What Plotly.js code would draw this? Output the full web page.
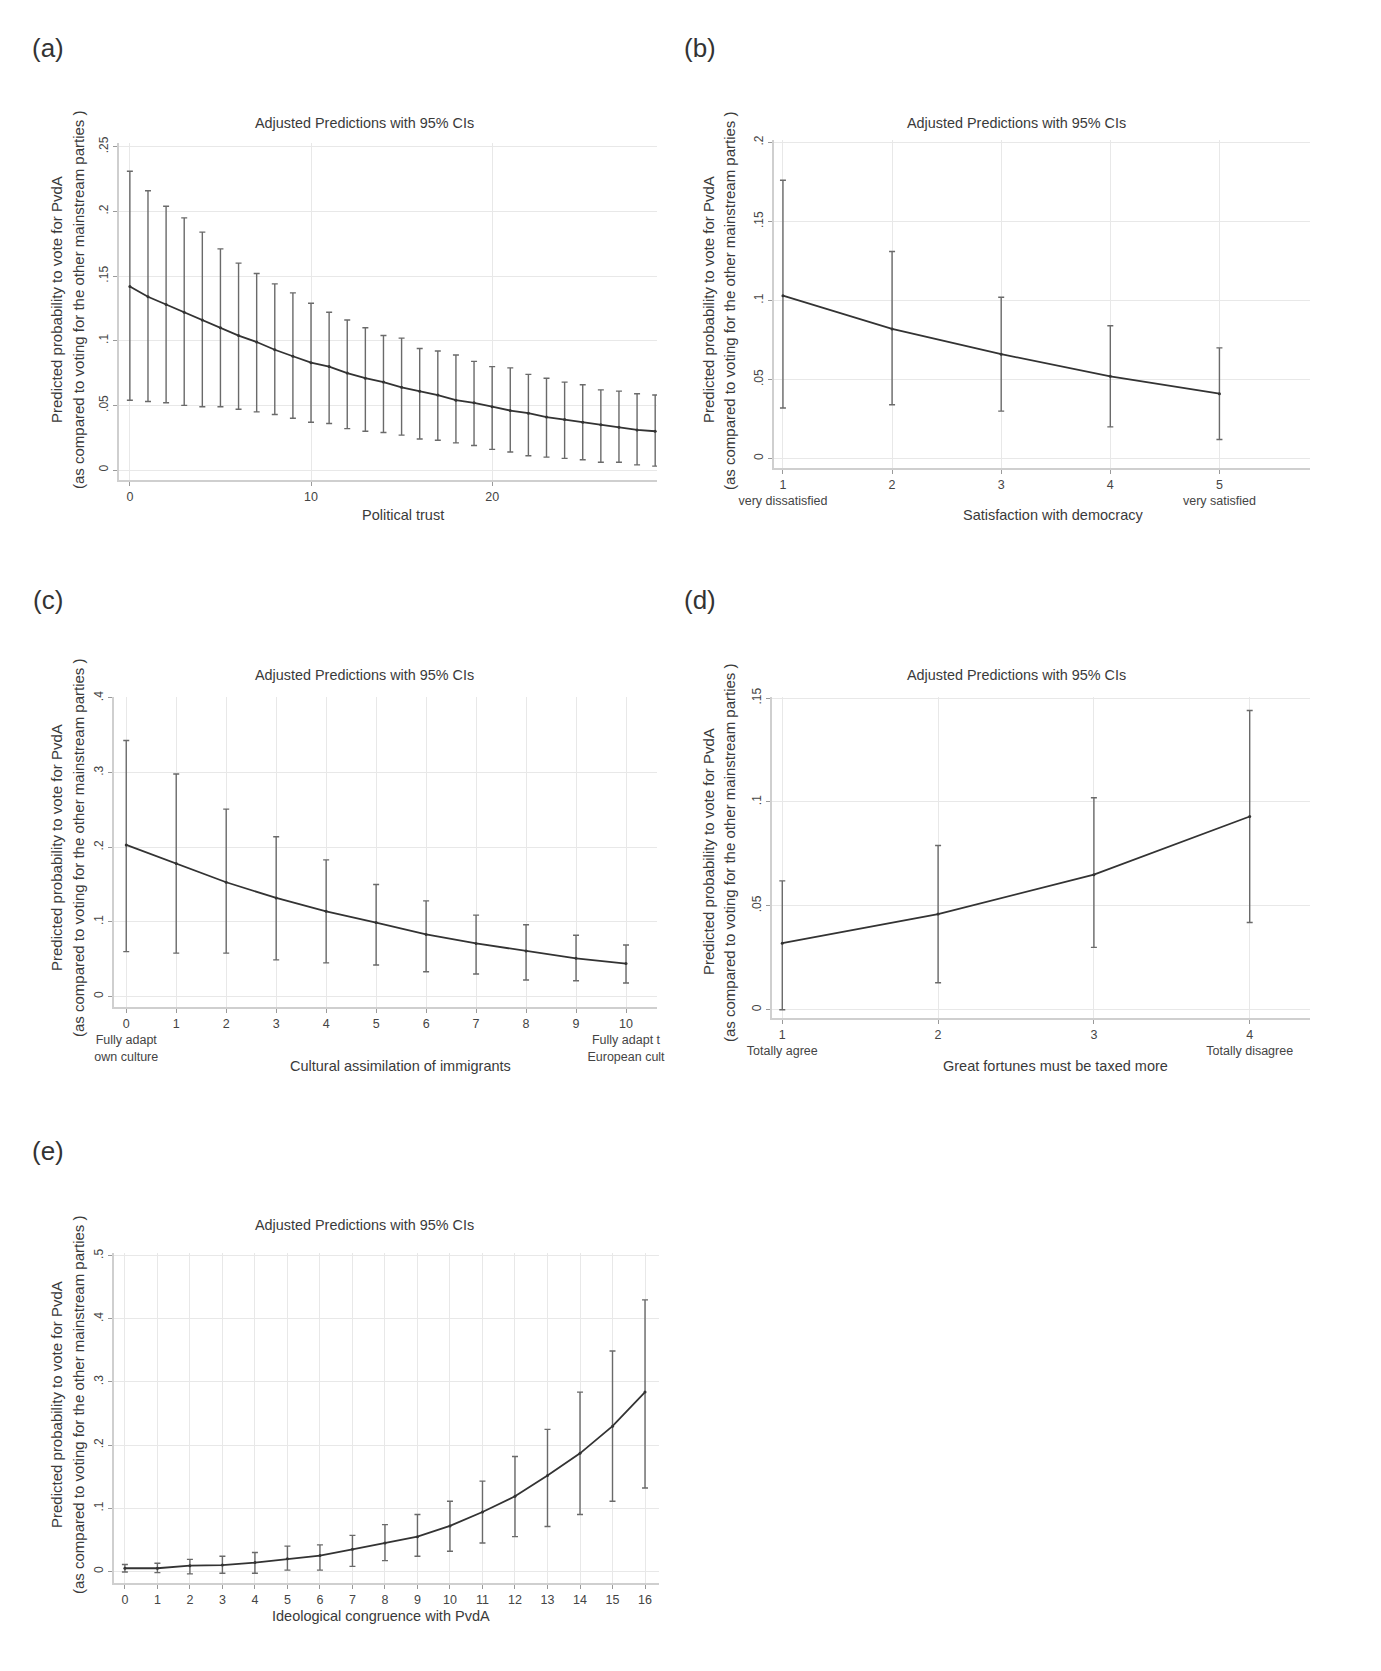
<!DOCTYPE html>
<html><head><meta charset="utf-8">
<script src="https://cdn.plot.ly/plotly-3.0.1.min.js"></script>
<style>html,body{margin:0;padding:0;background:#fff}#chart{width:1381px;height:1671px}</style>
</head><body><div id="chart"></div>
<script>
const W = 1381, H = 1671;

// ---------- shared text ----------
const plotTitle = "Adjusted Predictions with 95% CIs";
const yTitleLine1 = "Predicted probability to vote for PvdA";
const yTitleLine2 = "(as compared to voting for the other mainstream parties )";

// ---------- (a) Political trust ----------
const aX = [0,1,2,3,4,5,6,7,8,9,10,11,12,13,14,15,16,17,18,19,20,21,22,23,24,25,26,27,28,29];
const aPred  = [0.142,0.134,0.128,0.122,0.116,0.110,0.104,0.099,0.093,0.088,0.083,0.080,0.075,0.071,0.068,0.064,0.061,0.058,0.054,0.052,0.049,0.046,0.044,0.041,0.039,0.037,0.035,0.033,0.031,0.030];
const aUpper = [0.231,0.216,0.204,0.195,0.184,0.171,0.160,0.152,0.144,0.137,0.129,0.122,0.116,0.110,0.104,0.102,0.094,0.092,0.089,0.084,0.080,0.079,0.074,0.071,0.068,0.066,0.062,0.061,0.059,0.058];
const aLower = [0.054,0.053,0.052,0.050,0.049,0.049,0.047,0.045,0.043,0.040,0.037,0.036,0.032,0.030,0.029,0.027,0.024,0.023,0.021,0.019,0.016,0.014,0.011,0.010,0.009,0.008,0.006,0.006,0.004,0.003];
const aXTickVals = [0,10,20];
const aXTickText = ["0","10","20"];
const aYTickVals = [0,0.05,0.10,0.15,0.20,0.25];
const aYTickText = ["0",".05",".1",".15",".2",".25"];
const aXTitle = "Political trust";

// ---------- (b) Satisfaction with democracy ----------
const bX = [1,2,3,4,5];
const bPred  = [0.103,0.082,0.066,0.052,0.041];
const bUpper = [0.176,0.131,0.102,0.084,0.070];
const bLower = [0.032,0.034,0.030,0.020,0.012];
const bXTickVals = [1,2,3,4,5];
const bXTickText = ["1<br>very dissatisfied","2","3","4","5<br>very satisfied"];
const bYTickVals = [0,0.05,0.10,0.15,0.20];
const bYTickText = ["0",".05",".1",".15",".2"];
const bXTitle = "Satisfaction with democracy";

// ---------- (c) Cultural assimilation of immigrants ----------
const cX = [0,1,2,3,4,5,6,7,8,9,10];
const cPred  = [0.203,0.178,0.153,0.132,0.114,0.099,0.083,0.071,0.061,0.051,0.044];
const cUpper = [0.343,0.298,0.251,0.214,0.183,0.150,0.128,0.109,0.096,0.082,0.069];
const cLower = [0.060,0.058,0.058,0.049,0.045,0.042,0.033,0.030,0.022,0.021,0.018];
const cXTickVals = [0,1,2,3,4,5,6,7,8,9,10];
const cXTickText = ["0<br>Fully adapt<br>own culture","1","2","3","4","5","6","7","8","9","10<br>Fully adapt t<br>European cult"];
const cYTickVals = [0,0.1,0.2,0.3,0.4];
const cYTickText = ["0",".1",".2",".3",".4"];
const cXTitle = "Cultural assimilation of immigrants";

// ---------- (d) Great fortunes must be taxed more ----------
const dX = [1,2,3,4];
const dPred  = [0.032,0.046,0.065,0.093];
const dUpper = [0.062,0.079,0.102,0.144];
const dLower = [0.000,0.013,0.030,0.042];
const dXTickVals = [1,2,3,4];
const dXTickText = ["1<br>Totally agree","2","3","4<br>Totally disagree"];
const dYTickVals = [0,0.05,0.10,0.15];
const dYTickText = ["0",".05",".1",".15"];
const dXTitle = "Great fortunes must be taxed more";

// ---------- (e) Ideological congruence with PvdA ----------
const eX = [0,1,2,3,4,5,6,7,8,9,10,11,12,13,14,15,16];
const ePred  = [0.005,0.005,0.009,0.010,0.014,0.020,0.025,0.035,0.045,0.055,0.072,0.094,0.119,0.152,0.187,0.230,0.284];
const eUpper = [0.011,0.013,0.019,0.024,0.030,0.040,0.042,0.057,0.074,0.090,0.111,0.143,0.182,0.225,0.284,0.349,0.430];
const eLower = [-0.001,-0.002,-0.004,-0.003,-0.003,0.002,0.002,0.008,0.017,0.024,0.032,0.045,0.055,0.071,0.090,0.111,0.132];
const eXTickVals = [0,1,2,3,4,5,6,7,8,9,10,11,12,13,14,15,16];
const eXTickText = ["0","1","2","3","4","5","6","7","8","9","10","11","12","13","14","15","16"];
const eYTickVals = [0,0.1,0.2,0.3,0.4,0.5];
const eYTickText = ["0",".1",".2",".3",".4",".5"];
const eXTitle = "Ideological congruence with PvdA";

// ---------- layout geometry (pixels) ----------
const panels = [
  {lab:"(a)", x:aX, p:aPred, u:aUpper, l:aLower, xtv:aXTickVals, xtt:aXTickText, ytv:aYTickVals, ytt:aYTickText, xt:aXTitle,
   box:[119,657,143,480], xr:[-0.6,29.1], yr:[-0.0077,0.2529], labPos:[48,48], tPos:[365,123], xtPos:[403,515], ytPos:[56,78,300]},
  {lab:"(b)", x:bX, p:bPred, u:bUpper, l:bLower, xtv:bXTickVals, xtt:bXTickText, ytv:bYTickVals, ytt:bYTickText, xt:bXTitle,
   box:[774,1310,140,468], xr:[0.918,5.83], yr:[-0.006,0.2015], labPos:[700,48], tPos:[1016,123], xtPos:[1053,515], ytPos:[708,729,300]},
  {lab:"(c)", x:cX, p:cPred, u:cUpper, l:cLower, xtv:cXTickVals, xtt:cXTickText, ytv:cYTickVals, ytt:cYTickText, xt:cXTitle,
   box:[114,657,697,1007], xr:[-0.245,10.62], yr:[-0.0142,0.4013], labPos:[48,600], tPos:[365,675], xtPos:[400,1066], ytPos:[56,78,848]},
  {lab:"(d)", x:dX, p:dPred, u:dUpper, l:dLower, xtv:dXTickVals, xtt:dXTickText, ytv:dYTickVals, ytt:dYTickText, xt:dXTitle,
   box:[772,1310,697,1018], xr:[0.934,4.387], yr:[-0.004,0.1505], labPos:[700,600], tPos:[1016,675], xtPos:[1055,1066], ytPos:[708,729,852]},
  {lab:"(e)", x:eX, p:ePred, u:eUpper, l:eLower, xtv:eXTickVals, xtt:eXTickText, ytv:eYTickVals, ytt:eYTickText, xt:eXTitle,
   box:[114,659,1253,1583], xr:[-0.335,16.43], yr:[-0.0184,0.5043], labPos:[48,1151], tPos:[365,1225], xtPos:[381,1616], ytPos:[56,78,1405]}
];

const px = v => v / W;
const py = v => 1 - v / H;
const FONT = "Liberation Sans, Arial, Helvetica, sans-serif";
const LINE_COL = "#333333", CI_COL = "#6a6a6a", TXT = "#3a3a3a";

const traces = [];
const layout = {
  width: W, height: H,
  margin: {l:0, r:0, t:0, b:0},
  paper_bgcolor: "#ffffff", plot_bgcolor: "#ffffff",
  showlegend: false,
  font: {family: FONT, color: TXT},
  annotations: []
};

panels.forEach((pn, i) => {
  const n = i === 0 ? "" : String(i + 1);
  const xa = "x" + n, ya = "y" + n;
  traces.push({
    type: "scatter", mode: "lines+markers",
    x: pn.x, y: pn.p, xaxis: xa, yaxis: ya,
    line: {color: LINE_COL, width: 1.8},
    marker: {size: 3, color: LINE_COL},
    error_y: {
      type: "data", symmetric: false,
      array: pn.u.map((v, k) => v - pn.p[k]),
      arrayminus: pn.p.map((v, k) => v - pn.l[k]),
      color: CI_COL, thickness: 1.4, width: 3
    },
    hoverinfo: "skip"
  });
  const [L, R, T, B] = pn.box;
  layout["xaxis" + n] = {
    domain: [px(L), px(R)], anchor: ya, range: pn.xr,
    tickmode: "array", tickvals: pn.xtv, ticktext: pn.xtt,
    showgrid: true, gridcolor: "#e8e8e8", gridwidth: 1,
    showline: true, linecolor: "#cfcfcf", linewidth: 2,
    ticks: "outside", ticklen: 4, tickcolor: "#9a9a9a",
    tickfont: {size: 12.5, color: "#444", family: FONT},
    zeroline: false, fixedrange: true
  };
  layout["yaxis" + n] = {
    domain: [py(B), py(T)], anchor: xa, range: pn.yr,
    tickmode: "array", tickvals: pn.ytv, ticktext: pn.ytt,
    tickangle: -90,
    showgrid: true, gridcolor: "#e8e8e8", gridwidth: 1,
    showline: true, linecolor: "#cfcfcf", linewidth: 2,
    ticks: "outside", ticklen: 4, tickcolor: "#9a9a9a",
    tickfont: {size: 12, color: "#444", family: FONT},
    zeroline: false, fixedrange: true
  };
  const ann = layout.annotations;
  ann.push({text: pn.lab, xref: "paper", yref: "paper", x: px(pn.labPos[0]), y: py(pn.labPos[1]),
            xanchor: "center", yanchor: "middle", showarrow: false, font: {size: 26, color: "#333", family: FONT}});
  ann.push({text: plotTitle, xref: "paper", yref: "paper", x: px(pn.tPos[0]), y: py(pn.tPos[1]),
            xanchor: "center", yanchor: "middle", showarrow: false, font: {size: 14.4, color: TXT, family: FONT}});
  ann.push({text: pn.xt, xref: "paper", yref: "paper", x: px(pn.xtPos[0]), y: py(pn.xtPos[1]),
            xanchor: "center", yanchor: "middle", showarrow: false, font: {size: 14.5, color: TXT, family: FONT}});
  ann.push({text: yTitleLine1, xref: "paper", yref: "paper", x: px(pn.ytPos[0]), y: py(pn.ytPos[2]),
            xanchor: "center", yanchor: "middle", textangle: -90, showarrow: false, font: {size: 15, color: TXT, family: FONT}});
  ann.push({text: yTitleLine2, xref: "paper", yref: "paper", x: px(pn.ytPos[1]), y: py(pn.ytPos[2]),
            xanchor: "center", yanchor: "middle", textangle: -90, showarrow: false, font: {size: 15, color: TXT, family: FONT}});
});

Plotly.newPlot("chart", traces, layout, {displayModeBar: false, staticPlot: true});
</script>
</body></html>
